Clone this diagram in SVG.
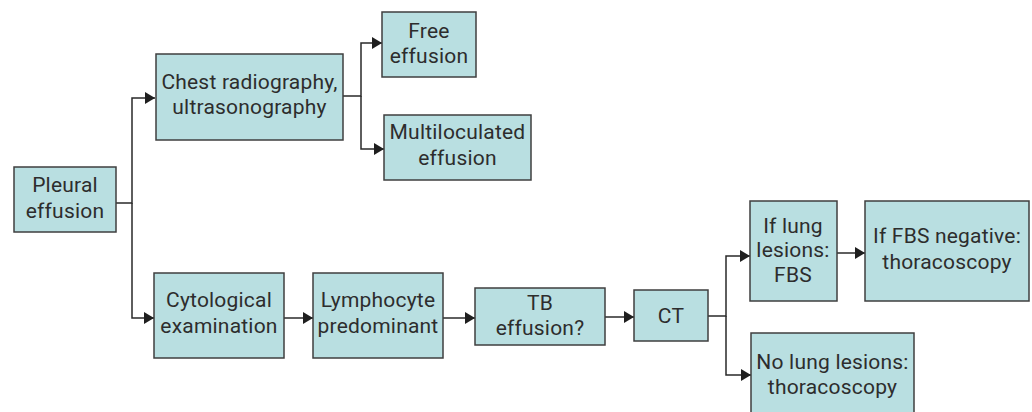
<svg xmlns="http://www.w3.org/2000/svg" width="1032" height="412" viewBox="0 0 1032 412">
<style>
.box{fill:#b9dfe1;stroke:#3f3f3f;stroke-width:1.5}
.t{font-family:Roboto,"Liberation Sans",sans-serif;font-size:21px;letter-spacing:0.2px;fill:#2d2d2d;text-anchor:middle}
.c{fill:none;stroke:#2a2a2a;stroke-width:1.5}
</style>
<defs>
<marker id="ah" markerUnits="userSpaceOnUse" markerWidth="10" markerHeight="12" refX="10" refY="6" orient="auto">
<path d="M0,0 L10,6 L0,12 z" fill="#1f1f1f"/>
</marker>
</defs>
<rect width="1032" height="412" fill="#ffffff"/>
<g id="connectors">
<path class="c" d="M116,203 H132 V98 H155" marker-end="url(#ah)"/>
<path class="c" d="M132,203 V318 H154" marker-end="url(#ah)"/>
<path class="c" d="M343,96 H361 V43 H382" marker-end="url(#ah)"/>
<path class="c" d="M361,96 V149 H384" marker-end="url(#ah)"/>
<path class="c" d="M284,318 H313" marker-end="url(#ah)"/>
<path class="c" d="M443,318 H475" marker-end="url(#ah)"/>
<path class="c" d="M605,317 H634" marker-end="url(#ah)"/>
<path class="c" d="M708,316 H726 V256 H750" marker-end="url(#ah)"/>
<path class="c" d="M726,316 V375 H751" marker-end="url(#ah)"/>
<path class="c" d="M837,253 H865" marker-end="url(#ah)"/>
</g>
<g id="pleural">
<rect class="box" x="14" y="167" width="102" height="65"/>
<text class="t" x="65" y="192">Pleural</text>
<text class="t" x="65" y="218">effusion</text>
</g>
<g id="chest">
<rect class="box" x="156" y="54" width="187" height="86"/>
<text class="t" x="249.5" y="89">Chest radiography,</text>
<text class="t" x="249.5" y="114">ultrasonography</text>
</g>
<g id="free">
<rect class="box" x="382" y="12" width="94" height="65"/>
<text class="t" x="429" y="38">Free</text>
<text class="t" x="429" y="63">effusion</text>
</g>
<g id="multi">
<rect class="box" x="384" y="115" width="147" height="65"/>
<text class="t" x="457.5" y="139">Multiloculated</text>
<text class="t" x="457.5" y="165">effusion</text>
</g>
<g id="cyto">
<rect class="box" x="154" y="273" width="130" height="85"/>
<text class="t" x="219" y="307">Cytological</text>
<text class="t" x="219" y="333">examination</text>
</g>
<g id="lympho">
<rect class="box" x="313" y="273" width="130" height="85"/>
<text class="t" x="378" y="307">Lymphocyte</text>
<text class="t" x="378" y="333">predominant</text>
</g>
<g id="tb">
<rect class="box" x="475" y="288" width="130" height="57"/>
<text class="t" x="540" y="310">TB</text>
<text class="t" x="540" y="335">effusion?</text>
</g>
<g id="ct">
<rect class="box" x="634" y="290" width="74" height="51"/>
<text class="t" x="671" y="323">CT</text>
</g>
<g id="iflung">
<rect class="box" x="750" y="201" width="87" height="100"/>
<text class="t" x="793" y="233">If lung</text>
<text class="t" x="793" y="257">lesions:</text>
<text class="t" x="793" y="282">FBS</text>
</g>
<g id="fbsneg">
<rect class="box" x="865" y="201" width="164" height="100"/>
<text class="t" x="947" y="243">If FBS negative:</text>
<text class="t" x="947" y="269">thoracoscopy</text>
</g>
<g id="nolung">
<rect class="box" x="751" y="333" width="163" height="84"/>
<text class="t" x="832.5" y="369">No lung lesions:</text>
<text class="t" x="832.5" y="394">thoracoscopy</text>
</g>
</svg>
